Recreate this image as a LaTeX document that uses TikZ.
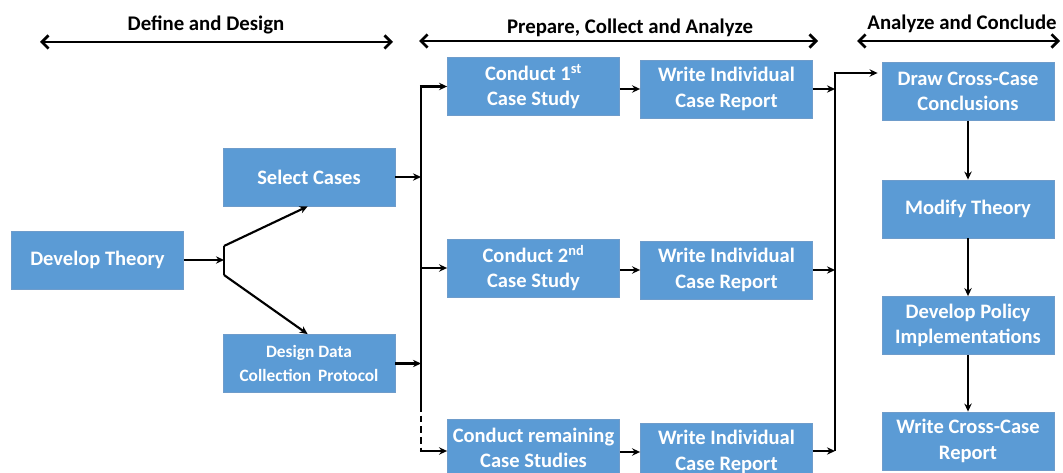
\documentclass[tikz,border=0pt]{standalone}
\usepackage{fontspec}
\setmainfont{Carlito}
\usetikzlibrary{arrows.meta}
\definecolor{boxblue}{HTML}{5B9BD5}
\definecolor{boxedge}{HTML}{6E9CCB}
\begin{document}
\begin{tikzpicture}[x=0.75pt,y=-0.75pt,
  box/.style={draw=boxedge,line width=0.6pt,fill=boxblue,text=white,
    minimum width=129pt,minimum height=43.5pt,inner sep=0pt,align=center,
    font=\fontsize{15.4}{19}\selectfont\bfseries},
  smallbox/.style={box,font=\fontsize{13}{17.5}\selectfont\bfseries},
  hdr/.style={font=\fontsize{15.6}{18}\selectfont\bfseries,inner sep=0pt},
  conn/.style={line width=1.6pt},
  arr/.style={conn,-{Stealth[length=6pt,width=5.5pt]}},
  span/.style={line width=2pt,{Straight Barb[length=5pt,width=10pt]}-{Straight Barb[length=5pt,width=10pt]}}]
\useasboundingbox (0,0) rectangle (1063,473);
% headers
\node[hdr] (h1) at (206,25) {Define and Design};
\node[hdr] (h2) at (630,28) {Prepare, Collect and Analyze};
\node[hdr] (h3) at (962,24) {Analyze and Conclude};
\coordinate (a1l) at (40,42); \coordinate (a1r) at (393,42);
\coordinate (a2l) at (419,41); \coordinate (a2r) at (818,41);
\coordinate (a3l) at (857,41); \coordinate (a3r) at (1060,41);
\draw[span] (a1l) -- (a1r);
\draw[span] (a2l) -- (a2r);
\draw[span] (a3l) -- (a3r);
% boxes
\node[box] (dt) at (97.5,260) {Develop Theory};
\node[box] (sc) at (309,177) {Select Cases};
\node[smallbox] (dd) at (309,363.5) {Design Data\\Collection\, Protocol};
\node[box] (c1) at (533.5,86.5) {Conduct 1\textsuperscript{st}\\Case Study};
\node[box] (w1) at (726.5,89) {Write Individual\\Case Report};
\node[box] (c2) at (533.5,268) {Conduct 2\textsuperscript{nd}\\Case Study};
\node[box] (w2) at (726.5,270) {Write Individual\\Case Report};
\node[box] (c3) at (533.5,448) {Conduct remaining\\Case Studies};
\node[box] (w3) at (726.5,452) {Write Individual\\Case Report};
\node[box] (r1) at (968,91.5) {Draw Cross-Case\\Conclusions};
\node[box] (r2) at (968,209) {Modify Theory};
\node[box] (r3) at (968,325.5) {Develop Policy\\Implementations};
\node[box] (r4) at (968,441) {Write Cross-Case\\Report};
% split from Develop Theory
\coordinate (sp) at (224,260);
\coordinate (spt) at (224,246);
\coordinate (spb) at (224,275);
\draw[arr] (dt.east) -- (sp);
\draw[conn] (spt) -- (spb);
\draw[arr] (spt) -- ([xshift=-1pt]sc.south);
\draw[arr] (spb) -- ([xshift=-1pt]dd.north);
% left collector line
\coordinate (jt) at (421,86.5);
\coordinate (jd) at (421,405);
\coordinate (jb) at (421,451);
\draw[conn] (jt) -- (jd);
\draw[conn,dashed,dash pattern=on 5pt off 3pt] (jd) -- (jb);
\draw[arr] (sc.east) -- (sc.east -| jt);
\draw[arr] (dd.east) -- (dd.east -| jt);
\draw[arr] ([xshift=-0.8pt]jt) -- (c1.west);
\draw[arr] (jt |- c2.west) -- (c2.west);
\draw[arr] ([xshift=-0.8pt]jb) -- (c3.west |- jb);
% middle arrows
\draw[arr] (c1.east |- w1.west) -- (w1.west);
\draw[arr] (c2.east |- w2.west) -- (w2.west);
\draw[arr] (c3.east |- w3.west) -- (w3.west);
% right collector line
\coordinate (kt) at (835,73);
\coordinate (kb) at (835,451);
\draw[conn] (kb) -- (kt);
\draw[arr] ([xshift=-0.8pt]kt) -- ([xshift=-3pt]r1.west |- kt);
\draw[arr] (w1.east) -- (w1.east -| kt);
\draw[arr] (w2.east) -- (w2.east -| kt);
\draw[arr] (w3.east |- kb) -- (kb);
% right column
\draw[arr] (r1.south) -- (r2.north);
\draw[arr] (r2.south) -- (r3.north);
\draw[arr] (r3.south) -- (r4.north);
\end{tikzpicture}
\end{document}
